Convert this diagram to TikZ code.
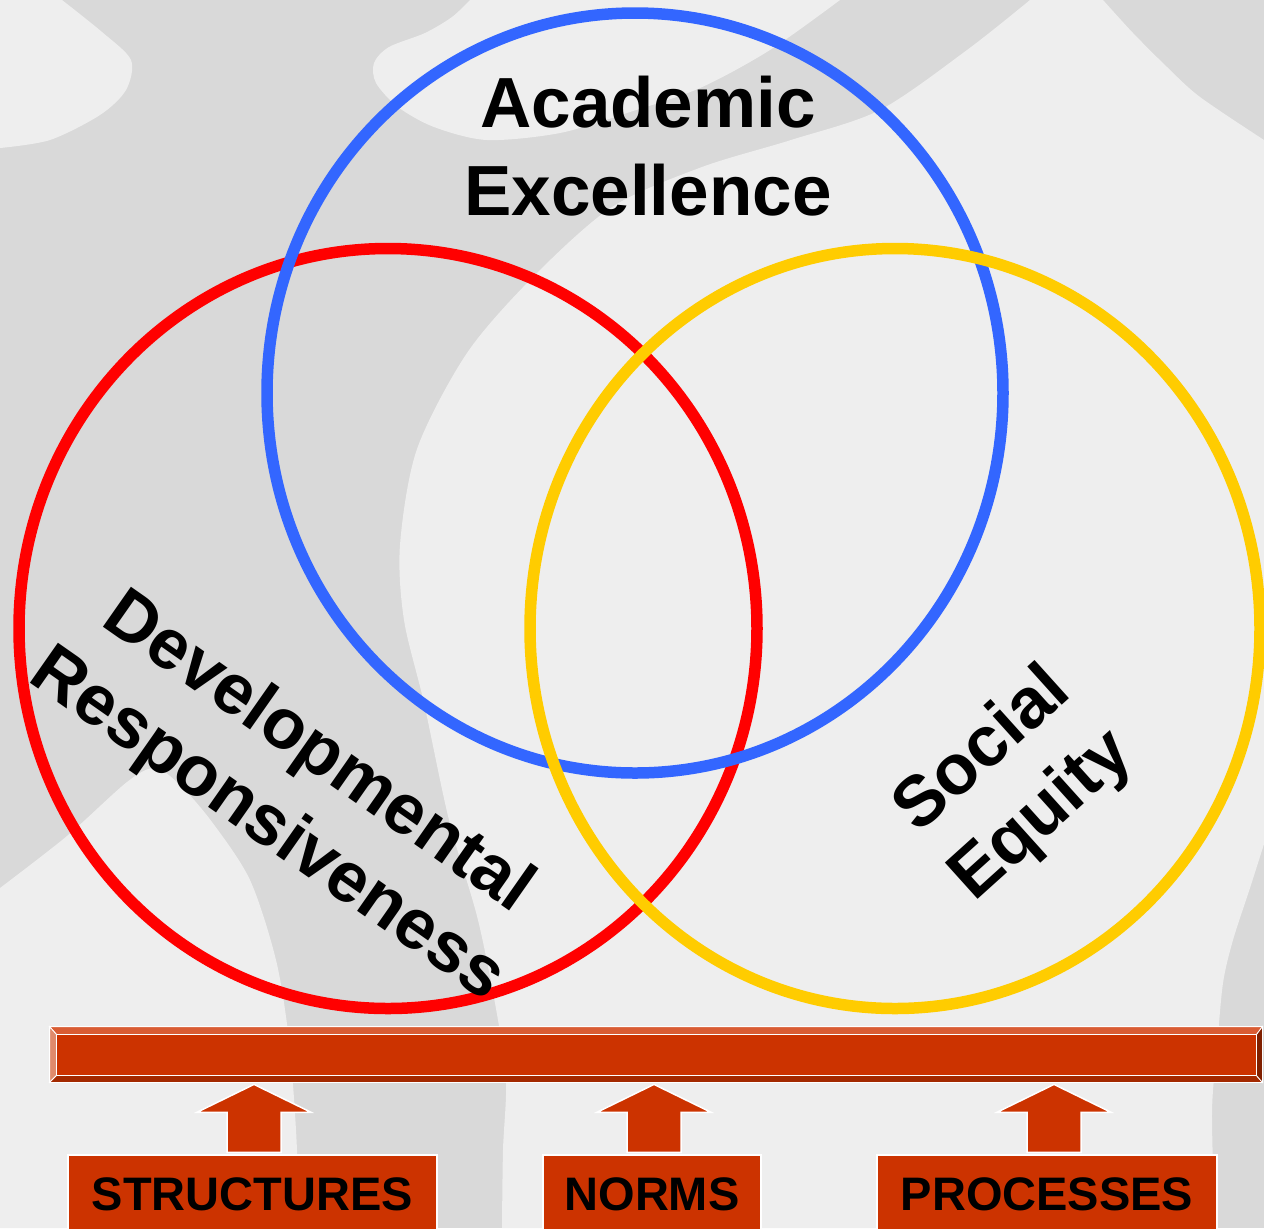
\documentclass[tikz,border=0pt]{standalone}
\usepackage{fontspec}
\setmainfont{Liberation Sans}
\usetikzlibrary{calc}

\definecolor{bgLight}{HTML}{EEEEEE}
\definecolor{bgGrey}{HTML}{D9D9D9}
\definecolor{ringBlue}{HTML}{3366FF}
\definecolor{ringRed}{HTML}{FF0000}
\definecolor{ringYellow}{HTML}{FFCC00}
\definecolor{rust}{HTML}{CC3300}
\definecolor{rustLight}{HTML}{D95C33}
\definecolor{rustPale}{HTML}{E08A6B}
\definecolor{rustDark}{HTML}{A32900}
\definecolor{rustDeep}{HTML}{802000}

\begin{document}
\begin{tikzpicture}
  [x=0.5pt, y=-0.5pt,
   ring/.style={line width=5.75pt},
   lbl/.style={font=\fontsize{35.5}{44}\selectfont\bfseries, align=center, inner sep=0pt},
   fbox/.style={fill=rust, draw=white, line width=0.75pt, minimum height=39pt, inner sep=0pt,
                font=\fontsize{23.5}{28}\selectfont\bfseries},
   bevel/.style={draw=white, line width=0.4pt},
   uparr/.style={fill=rust, draw=white, line width=0.75pt}]
  \useasboundingbox (0,0) rectangle (1264,1228);
  \clip (0,0) rectangle (1264,1228);

  % background swirls
  \fill[bgGrey] (0,0) rectangle (1264,1228);
  \fill[bgLight] (0,0) -- plot[smooth] coordinates {(62,0) (102,32) (131,60) (126,90) (100,115) (50,140) (0,148)} -- cycle;
  \fill[bgLight] plot[smooth] coordinates {(470,0) (452,17) (425,33) (389,47) (374,63) (376,83) (398,107)
      (434,127) (487,140) (560,133) (630,112) (700,88) (770,50) (840,0)} -- cycle;
  \fill[bgLight] (1030,0) -- plot[smooth] coordinates {(1103,0) (1133,33) (1167,67) (1200,97) (1264,140)}
      -- plot[smooth] coordinates {(1264,844) (1250,888) (1233,940) (1223,983) (1217,1048) (1212,1113) (1215,1228)}
      -- plot[smooth] coordinates {(502,1228) (503,1150) (506,1083) (498,1020) (478,920) (449,820) (424,703)
      (404,620) (400,545) (417,449) (467,353) (533,277) (612,207) (702,167) (791,140) (880,110) (967,50) (1030,0)}
      -- cycle;
  \fill[bgLight] plot[smooth] coordinates {(0,888) (67,836) (127,782) (155,768) (180,785) (212,822) (250,880)
      (276,960) (289,1040) (296,1130) (300,1228)} -- (0,1228) -- cycle;

  % the three circles
  \draw[ring, ringRed] (388,628.5) ellipse [x radius=369, y radius=380];
  \draw[ring, ringBlue] (635,393) ellipse [x radius=368, y radius=380];
  \draw[ring, ringYellow] (895,628.5) ellipse [x radius=365, y radius=380];

  \node[lbl] (acad) at (648,146) {Academic\\Excellence};
  \node[lbl, rotate=-35] (dev) at (292,790) {Developmental\\Responsiveness};
  \node[lbl, rotate=42] (soc) at (1013,784) {Social\\Equity};

  % base bar
  \node[fill=rust, minimum width=606pt, minimum height=27.5pt, inner sep=0pt] (bar) at (656,1054.5) {};
  \coordinate (fnw) at ($(bar.north west)+(7,8)$);
  \coordinate (fne) at ($(bar.north east)+(-6,8)$);
  \coordinate (fse) at ($(bar.south east)+(-6,-7)$);
  \coordinate (fsw) at ($(bar.south west)+(7,-7)$);
  \filldraw[bevel, fill=rustLight] (bar.north west) -- (bar.north east) -- (fne) -- (fnw) -- cycle;
  \filldraw[bevel, fill=rustPale] (bar.north west) -- (fnw) -- (fsw) -- (bar.south west) -- cycle;
  \filldraw[bevel, fill=rustDark] (bar.south west) -- (fsw) -- (fse) -- (bar.south east) -- cycle;
  \filldraw[bevel, fill=rustDeep] (bar.south east) -- (fse) -- (fne) -- (bar.north east) -- cycle;
  \filldraw[fill=rust, draw=white, line width=0.5pt] (fnw) rectangle (fse);
  \draw[white, line width=0.75pt] (bar.north west) rectangle (bar.south east);

  \node[fbox, minimum width=184.5pt] (structures) at (252.5,1194) {STRUCTURES};
  \node[fbox, minimum width=109pt] (norms) at (652,1194) {NORMS};
  \node[fbox, minimum width=170pt] (processes) at (1047,1194) {PROCESSES};

  \foreach \bx/\dx in {structures/1.5, norms/2, processes/7}
    \draw[uparr] ($(\bx.north)+(\dx-27,-2)$) -- ++(0,-40) -- ++(-30,0)
      -- ($(bar.south -| \bx.north)+(\dx,2)$) -- ($(\bx.north)+(\dx+57,-42)$) -- ++(-30,0) -- ++(0,40) -- cycle;
\end{tikzpicture}
\end{document}
